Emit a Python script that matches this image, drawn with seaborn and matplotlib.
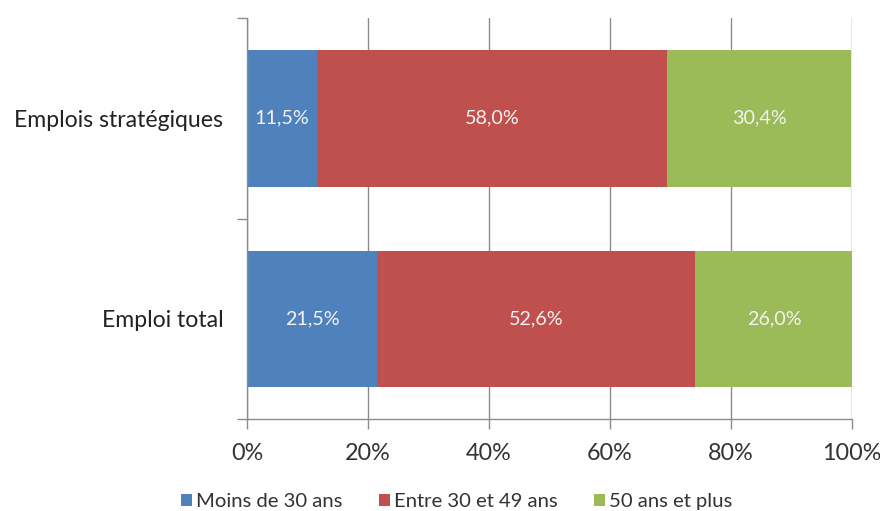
import matplotlib
matplotlib.use("Agg")
import matplotlib.pyplot as plt
from matplotlib.patches import Patch
from matplotlib.ticker import FixedLocator
import numpy as np
import pandas as pd
import seaborn as sns

categories = ["Emplois stratégiques", "Emploi total"]
series_names = ["Moins de 30 ans", "Entre 30 et 49 ans", "50 ans et plus"]
moins_30 = [11.5, 21.5]
entre_30_49 = [58.0, 52.6]
plus_50 = [30.4, 26.0]
x_ticks = [0, 20, 40, 60, 80, 100]
x_tick_labels = ["0%", "20%", "40%", "60%", "80%", "100%"]

colors = ["#4F81BD", "#C0504D", "#9BBB59"]

sns.set_theme(style="white")
plt.rcParams["font.family"] = ["Lato", "DejaVu Sans"]

series = [moins_30, entre_30_49, plus_50]
values = np.array(series, dtype=float)
cum = np.cumsum(values, axis=0)

fig = plt.figure(figsize=(8.8, 5.11), dpi=100)
ax = fig.add_axes([0.2807, 0.180, 0.6875, 0.7845])

# Stacked bars: draw cumulative totals from the outermost segment inward
for i in reversed(range(len(series))):
    df = pd.DataFrame({"cat": categories, "val": cum[i]})
    sns.barplot(data=df, x="val", y="cat", orient="h", color=colors[i],
                saturation=1, width=0.68, ax=ax, zorder=2, linewidth=0)

# Value labels centred in each segment
for i in range(len(series)):
    for j, cat in enumerate(categories):
        v = values[i, j]
        center = cum[i, j] - v / 2
        ax.text(center, j, f"{v:.1f}%".replace(".", ","), ha="center", va="center",
                color="#F2F2F2", fontsize=14.2, zorder=3)

ax.set_xlim(0, 100)
ax.set_ylim(1.5, -0.5)
ax.set_xticks(x_ticks)
ax.set_xticklabels(x_tick_labels, fontsize=16.8, color="#333333")
ax.set_xlabel("")
ax.set_ylabel("")
ax.tick_params(axis="y", which="major", length=0, pad=17, labelsize=16.6, labelcolor="#222222")
ax.yaxis.set_minor_locator(FixedLocator([-0.5, 0.5, 1.5]))
ax.tick_params(axis="y", which="minor", length=7, width=1, color="#8C8C8C", direction="out", left=True)
ax.tick_params(axis="x", which="major", length=7, width=1, color="#8C8C8C", direction="out", bottom=True, pad=10)

ax.grid(axis="x", color="#8C8C8C", linewidth=1, zorder=0)
ax.set_axisbelow(True)
for s in ["top", "right"]:
    ax.spines[s].set_visible(False)
for s in ["left", "bottom"]:
    ax.spines[s].set_color("#8C8C8C")
    ax.spines[s].set_linewidth(1)

handles = [Patch(facecolor=c, edgecolor="none") for c in colors]
fig.legend(handles, series_names, loc="center", bbox_to_anchor=(0.519, 0.018),
           ncol=3, frameon=False, fontsize=14.6, handlelength=0.55, handleheight=0.55,
           handletextpad=0.2, columnspacing=1.8, labelcolor="#333333",
           borderpad=0, borderaxespad=0)

fig.savefig("out.png", dpi=100)
